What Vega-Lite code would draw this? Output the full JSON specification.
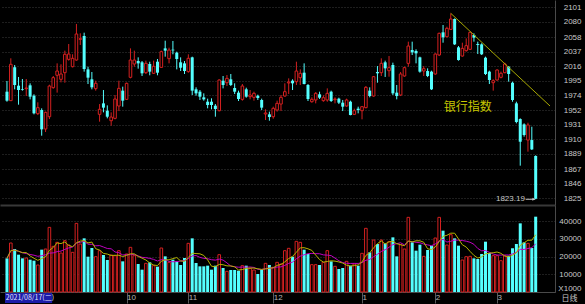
{
"$schema": "https://vega.github.io/schema/vega-lite/v6.json",
"background": "#000000",
"padding": {"left": 0, "top": 0, "right": 4, "bottom": 0},
"spacing": 0,
"config": {
  "view": {"stroke": null},
  "axis": {"labelFont": "Liberation Sans", "labelFontSize": 8, "labelColor": "#c8c8c8", "domainColor": "#4a4a4a", "gridColor": "#3c3c3c", "gridDash": [1, 2], "tickColor": "#5a5a5a"}
},
"datasets": {
"k": [
{"i":0,"open":1978.9,"high":1994.4,"low":1964.4,"close":1965.9,"vol":19049},
{"i":1,"open":1965.9,"high":2027.2,"low":1965.4,"close":2018.5,"vol":27724},
{"i":2,"open":2014.1,"high":2017.5,"low":1982.3,"close":1988.6,"vol":24329},
{"i":3,"open":1987.6,"high":2000.2,"low":1960.1,"close":1981.3,"vol":21123},
{"i":4,"open":1982.8,"high":1997.2,"low":1980.4,"close":1981.8,"vol":19049},
{"i":5,"open":1983.3,"high":1997.2,"low":1972.6,"close":1984.2,"vol":19237},
{"i":6,"open":1988.1,"high":1991.0,"low":1967.8,"close":1971.7,"vol":18294},
{"i":7,"open":1973.1,"high":1975.1,"low":1946.1,"close":1947.6,"vol":17728},
{"i":8,"open":1947.1,"high":1963.5,"low":1945.1,"close":1955.8,"vol":15277},
{"i":9,"open":1952.4,"high":1954.8,"low":1915.2,"close":1924.4,"vol":23952},
{"i":10,"open":1924.9,"high":1950.0,"low":1920.5,"close":1949.0,"vol":24329},
{"i":11,"open":1942.7,"high":1989.0,"low":1939.3,"close":1987.1,"vol":36588},
{"i":12,"open":1984.7,"high":2001.6,"low":1983.3,"close":1999.2,"vol":25838},
{"i":13,"open":2002.6,"high":2019.9,"low":1977.5,"close":2008.8,"vol":28101},
{"i":14,"open":1996.8,"high":2018.5,"low":1992.4,"close":2004.5,"vol":22066},
{"i":15,"open":2006.4,"high":2038.3,"low":1991.9,"close":2033.0,"vol":29044},
{"i":16,"open":2025.7,"high":2047.9,"low":2023.8,"close":2033.4,"vol":26593},
{"i":17,"open":2015.1,"high":2033.0,"low":2014.0,"close":2027.2,"vol":22443},
{"i":18,"open":2024.7,"high":2076.9,"low":2023.8,"close":2062.4,"vol":38852},
{"i":19,"open":2054.7,"high":2063.4,"low":2046.5,"close":2055.6,"vol":27158},
{"i":20,"open":2059.5,"high":2064.3,"low":2007.9,"close":2011.7,"vol":30365},
{"i":21,"open":2011.2,"high":2015.1,"low":1990.0,"close":1999.2,"vol":19992},
{"i":22,"open":1996.8,"high":2007.4,"low":1982.3,"close":1985.2,"vol":24895},
{"i":23,"open":1983.3,"high":1994.8,"low":1980.4,"close":1991.0,"vol":19992},
{"i":24,"open":1946.1,"high":1961.0,"low":1935.5,"close":1953.4,"vol":23386},
{"i":25,"open":1962.0,"high":1981.3,"low":1949.0,"close":1955.8,"vol":20935},
{"i":26,"open":1951.4,"high":1959.1,"low":1940.3,"close":1942.7,"vol":18106},
{"i":27,"open":1936.9,"high":1949.0,"low":1929.7,"close":1942.2,"vol":20935},
{"i":28,"open":1940.3,"high":1974.1,"low":1938.9,"close":1968.3,"vol":20557},
{"i":29,"open":1958.2,"high":1994.8,"low":1950.9,"close":1983.7,"vol":23386},
{"i":30,"open":1980.4,"high":1986.2,"low":1957.2,"close":1965.9,"vol":17351},
{"i":31,"open":1967.8,"high":1992.0,"low":1966.9,"close":1991.0,"vol":21500},
{"i":32,"open":1999.7,"high":2041.6,"low":1998.2,"close":2024.7,"vol":25272},
{"i":33,"open":2019.0,"high":2038.3,"low":2015.1,"close":2024.7,"vol":20557},
{"i":34,"open":2023.3,"high":2028.6,"low":2012.2,"close":2019.9,"vol":15842},
{"i":35,"open":2021.4,"high":2023.3,"low":2001.6,"close":2005.5,"vol":12636},
{"i":36,"open":2006.4,"high":2023.8,"low":2004.5,"close":2019.9,"vol":16220},
{"i":37,"open":2019.0,"high":2022.3,"low":2002.6,"close":2007.9,"vol":16785},
{"i":38,"open":2005.5,"high":2023.8,"low":2004.5,"close":2015.6,"vol":14899},
{"i":39,"open":2022.3,"high":2026.2,"low":2002.6,"close":2006.4,"vol":14334},
{"i":40,"open":2014.1,"high":2038.3,"low":2013.6,"close":2036.8,"vol":24895},
{"i":41,"open":2041.6,"high":2052.7,"low":2029.6,"close":2038.3,"vol":20180},
{"i":42,"open":2026.7,"high":2042.6,"low":2019.9,"close":2039.2,"vol":16785},
{"i":43,"open":2039.7,"high":2052.3,"low":2033.0,"close":2038.7,"vol":18294},
{"i":44,"open":2035.4,"high":2036.8,"low":2011.2,"close":2026.2,"vol":17351},
{"i":45,"open":2021.4,"high":2028.6,"low":2008.8,"close":2013.6,"vol":15277},
{"i":46,"open":2019.9,"high":2023.3,"low":2004.5,"close":2008.8,"vol":19237},
{"i":47,"open":2007.9,"high":2033.0,"low":2006.4,"close":2027.2,"vol":27536},
{"i":48,"open":2028.6,"high":2029.6,"low":1974.1,"close":1980.4,"vol":30365},
{"i":49,"open":1982.3,"high":1985.2,"low":1973.1,"close":1976.5,"vol":16408},
{"i":50,"open":1978.9,"high":1981.3,"low":1966.9,"close":1971.7,"vol":14522},
{"i":51,"open":1970.7,"high":1976.5,"low":1965.9,"close":1967.8,"vol":14522},
{"i":52,"open":1964.4,"high":1968.8,"low":1954.8,"close":1959.6,"vol":14899},
{"i":53,"open":1964.4,"high":1969.3,"low":1953.4,"close":1959.6,"vol":12636},
{"i":54,"open":1958.6,"high":1961.0,"low":1942.7,"close":1953.8,"vol":14899},
{"i":55,"open":1951.4,"high":1996.8,"low":1950.4,"close":1995.8,"vol":21123},
{"i":56,"open":1994.8,"high":2001.6,"low":1983.7,"close":1988.6,"vol":13579},
{"i":57,"open":1991.9,"high":2003.0,"low":1987.1,"close":1998.2,"vol":11693},
{"i":58,"open":1996.8,"high":2004.5,"low":1987.1,"close":1988.6,"vol":12448},
{"i":59,"open":1984.2,"high":1991.0,"low":1975.5,"close":1978.9,"vol":12448},
{"i":60,"open":1977.5,"high":1980.4,"low":1965.4,"close":1968.3,"vol":12070},
{"i":61,"open":1967.8,"high":1990.0,"low":1965.9,"close":1987.1,"vol":14899},
{"i":62,"open":1982.3,"high":1984.7,"low":1970.2,"close":1971.7,"vol":14899},
{"i":63,"open":1971.7,"high":1981.3,"low":1967.8,"close":1974.1,"vol":13391},
{"i":64,"open":1970.7,"high":1978.9,"low":1965.9,"close":1976.5,"vol":12448},
{"i":65,"open":1973.1,"high":1974.6,"low":1966.9,"close":1969.8,"vol":10184},
{"i":66,"open":1966.9,"high":1968.8,"low":1952.4,"close":1955.8,"vol":13013},
{"i":67,"open":1946.6,"high":1953.4,"low":1937.9,"close":1948.1,"vol":16220},
{"i":68,"open":1946.1,"high":1950.0,"low":1936.9,"close":1942.2,"vol":15277},
{"i":69,"open":1942.7,"high":1957.2,"low":1939.8,"close":1954.8,"vol":13956},
{"i":70,"open":1952.4,"high":1965.9,"low":1950.0,"close":1962.0,"vol":16785},
{"i":71,"open":1961.0,"high":1974.1,"low":1950.9,"close":1970.7,"vol":15842},
{"i":72,"open":1972.6,"high":1991.0,"low":1971.7,"close":1978.9,"vol":23386},
{"i":73,"open":1991.5,"high":1998.2,"low":1975.5,"close":1992.9,"vol":24707},
{"i":74,"open":1994.8,"high":1996.8,"low":1981.3,"close":1991.0,"vol":19992},
{"i":75,"open":1993.4,"high":2022.3,"low":1988.6,"close":2008.8,"vol":28667},
{"i":76,"open":1999.2,"high":2011.2,"low":1988.6,"close":2005.5,"vol":28101},
{"i":77,"open":2006.4,"high":2019.9,"low":1989.5,"close":1990.0,"vol":23952},
{"i":78,"open":1988.6,"high":1990.0,"low":1965.4,"close":1968.3,"vol":21500},
{"i":79,"open":1964.4,"high":1970.7,"low":1963.0,"close":1967.8,"vol":15465},
{"i":80,"open":1966.9,"high":1978.4,"low":1962.0,"close":1976.5,"vol":15465},
{"i":81,"open":1975.1,"high":1978.9,"low":1968.3,"close":1970.2,"vol":15277},
{"i":82,"open":1965.9,"high":1973.6,"low":1964.4,"close":1970.2,"vol":16785},
{"i":83,"open":1966.9,"high":1983.7,"low":1964.4,"close":1976.5,"vol":23386},
{"i":84,"open":1978.9,"high":1980.4,"low":1964.0,"close":1965.4,"vol":17351},
{"i":85,"open":1967.3,"high":1970.7,"low":1962.0,"close":1968.3,"vol":14522},
{"i":86,"open":1968.8,"high":1970.2,"low":1961.0,"close":1963.0,"vol":13013},
{"i":87,"open":1963.0,"high":1966.9,"low":1950.9,"close":1957.2,"vol":13579},
{"i":88,"open":1958.2,"high":1968.8,"low":1957.2,"close":1966.9,"vol":17351},
{"i":89,"open":1964.4,"high":1965.9,"low":1944.7,"close":1945.1,"vol":14899},
{"i":90,"open":1946.1,"high":1954.3,"low":1945.1,"close":1951.4,"vol":15842},
{"i":91,"open":1954.3,"high":1957.2,"low":1947.6,"close":1952.4,"vol":14899},
{"i":92,"open":1951.4,"high":1958.2,"low":1938.9,"close":1957.2,"vol":21878},
{"i":93,"open":1955.8,"high":1987.1,"low":1954.8,"close":1985.2,"vol":36023},
{"i":94,"open":1980.4,"high":1985.2,"low":1970.7,"close":1972.6,"vol":22443},
{"i":95,"open":1972.6,"high":2001.6,"low":1971.7,"close":2000.6,"vol":29422},
{"i":96,"open":2007.4,"high":2016.0,"low":1991.9,"close":2005.5,"vol":27158},
{"i":97,"open":2006.4,"high":2027.2,"low":2001.6,"close":2019.9,"vol":29422},
{"i":98,"open":2021.4,"high":2023.8,"low":2000.2,"close":2012.7,"vol":27536},
{"i":99,"open":2009.3,"high":2030.5,"low":2000.6,"close":2013.7,"vol":28479},
{"i":100,"open":2017.5,"high":2020.9,"low":1974.1,"close":1976.5,"vol":30930},
{"i":101,"open":1977.5,"high":1988.6,"low":1967.8,"close":1972.6,"vol":20180},
{"i":102,"open":1974.1,"high":2007.4,"low":1972.6,"close":2004.5,"vol":26781},
{"i":103,"open":2001.6,"high":2015.1,"low":2000.6,"close":2013.7,"vol":24329},
{"i":104,"open":2019.9,"high":2051.3,"low":2015.1,"close":2045.0,"vol":42246},
{"i":105,"open":2039.2,"high":2051.3,"low":2032.0,"close":2035.9,"vol":28101},
{"i":106,"open":2037.8,"high":2040.2,"low":2019.9,"close":2034.4,"vol":23386},
{"i":107,"open":2028.6,"high":2029.6,"low":2006.4,"close":2007.9,"vol":26781},
{"i":108,"open":2008.8,"high":2016.0,"low":2001.6,"close":2012.2,"vol":20180},
{"i":109,"open":2008.8,"high":2012.7,"low":2000.0,"close":2001.6,"vol":23764},
{"i":110,"open":2007.9,"high":2009.3,"low":1981.3,"close":1982.3,"vol":26215},
{"i":111,"open":2004.5,"high":2034.4,"low":2003.5,"close":2033.4,"vol":30553},
{"i":112,"open":2032.0,"high":2064.3,"low":2030.5,"close":2063.4,"vol":42246},
{"i":113,"open":2064.8,"high":2075.4,"low":2049.8,"close":2057.6,"vol":34702},
{"i":114,"open":2058.5,"high":2073.0,"low":2057.6,"close":2070.6,"vol":26593},
{"i":115,"open":2069.1,"high":2092.3,"low":2068.2,"close":2084.1,"vol":32439},
{"i":116,"open":2084.1,"high":2085.0,"low":2046.5,"close":2047.4,"vol":30365},
{"i":117,"open":2043.1,"high":2045.0,"low":2023.8,"close":2024.7,"vol":26215},
{"i":118,"open":2030.5,"high":2049.8,"low":2029.6,"close":2041.6,"vol":18106},
{"i":119,"open":2038.3,"high":2056.1,"low":2036.8,"close":2045.5,"vol":19992},
{"i":120,"open":2040.2,"high":2065.8,"low":2039.2,"close":2064.8,"vol":20180},
{"i":121,"open":2060.9,"high":2063.4,"low":2051.3,"close":2057.1,"vol":19049},
{"i":122,"open":2047.9,"high":2051.3,"low":2033.4,"close":2046.5,"vol":18671},
{"i":123,"open":2047.4,"high":2048.9,"low":2032.0,"close":2033.0,"vol":21500},
{"i":124,"open":2028.1,"high":2029.6,"low":2003.0,"close":2004.5,"vol":28479},
{"i":125,"open":2007.9,"high":2009.3,"low":1990.0,"close":1995.8,"vol":22066},
{"i":126,"open":1991.9,"high":1996.8,"low":1980.4,"close":1994.8,"vol":20557},
{"i":127,"open":1995.8,"high":2011.2,"low":1994.8,"close":2010.3,"vol":20557},
{"i":128,"open":1999.7,"high":2007.9,"low":1998.2,"close":2005.5,"vol":17728},
{"i":129,"open":2006.4,"high":2020.9,"low":2005.5,"close":2019.0,"vol":20557},
{"i":130,"open":2015.1,"high":2016.0,"low":1993.4,"close":2004.5,"vol":20557},
{"i":131,"open":1991.9,"high":1993.4,"low":1964.4,"close":1966.9,"vol":24707},
{"i":132,"open":1962.0,"high":1964.4,"low":1933.1,"close":1935.0,"vol":27158},
{"i":133,"open":1939.3,"high":1940.3,"low":1871.8,"close":1906.5,"vol":38852},
{"i":134,"open":1931.6,"high":1933.1,"low":1913.8,"close":1916.2,"vol":28101},
{"i":135,"open":1908.9,"high":1934.0,"low":1892.1,"close":1930.7,"vol":27536},
{"i":136,"open":1908.9,"high":1928.2,"low":1894.5,"close":1895.4,"vol":24895},
{"i":137,"open":1885.8,"high":1886.8,"low":1823.19,"close":1824.0,"vol":42624}
]
},
"vconcat": [
{
  "width": 555,
  "height": 205,
  "data": {"name": "k"},
  "encoding": {
    "x": {"field": "i", "type": "quantitative", "scale": {"domain": [-0.509, 140.71], "nice": false, "zero": false},
          "axis": {"labels": false, "ticks": false, "grid": false, "title": null, "domainWidth": 2, "domainColor": "#383838"}}
  },
  "layer": [
    {
      "mark": {"type": "rule", "strokeWidth": 1},
      "encoding": {
        "y": {"field": "low", "type": "quantitative", "scale": {"domain": [1814.9, 2111.6], "nice": false, "zero": false},
              "axis": {"orient": "right", "title": null, "values": [2101, 2080, 2058, 2037, 2016, 1995, 1974, 1952, 1931, 1910, 1889, 1867, 1846, 1825], "format": "d", "ticks": false, "labelAlign": "right", "labelBaseline": "middle", "labelPadding": 26, "grid": true}},
        "y2": {"field": "high"},
        "color": {"condition": {"test": "datum.close >= datum.open", "value": "#d42020"}, "value": "#54ffff"}
      }
    },
    {
      "transform": [{"filter": "datum.close < datum.open"}],
      "mark": {"type": "bar", "orient": "vertical", "width": 3, "color": "#54ffff"},
      "encoding": {"y": {"field": "open", "type": "quantitative", "axis": {"orient": "right", "title": null, "values": [2101, 2080, 2058, 2037, 2016, 1995, 1974, 1952, 1931, 1910, 1889, 1867, 1846, 1825], "format": "d", "ticks": false, "labelAlign": "right", "labelBaseline": "middle", "labelPadding": 26, "grid": true}}, "y2": {"field": "close"}}
    },
    {
      "transform": [{"filter": "datum.close >= datum.open"}],
      "mark": {"type": "bar", "orient": "vertical", "width": 2.6, "fill": "#000000", "stroke": "#d42020", "strokeWidth": 1},
      "encoding": {"y": {"field": "open", "type": "quantitative", "axis": {"orient": "right", "title": null, "values": [2101, 2080, 2058, 2037, 2016, 1995, 1974, 1952, 1931, 1910, 1889, 1867, 1846, 1825], "format": "d", "ticks": false, "labelAlign": "right", "labelBaseline": "middle", "labelPadding": 26, "grid": true}}, "y2": {"field": "close"}}
    },
    {
      "data": {"values": [{"i": 115, "price": 2092.3}, {"i": 140.71, "price": 1958.2}]},
      "mark": {"type": "line", "color": "#a8a800", "strokeWidth": 1},
      "encoding": {"y": {"field": "price", "type": "quantitative", "axis": {"orient": "right", "title": null, "values": [2101, 2080, 2058, 2037, 2016, 1995, 1974, 1952, 1931, 1910, 1889, 1867, 1846, 1825], "format": "d", "ticks": false, "labelAlign": "right", "labelBaseline": "middle", "labelPadding": 26, "grid": true}}}
    },
    {
      "data": {"values": [{"label": "银行指数", "i": 113.15, "price": 1957.2}]},
      "mark": {"type": "text", "align": "left", "baseline": "middle", "font": "Noto Sans CJK SC", "fontSize": 12, "color": "#c8c800"},
      "encoding": {"y": {"field": "price", "type": "quantitative", "axis": {"orient": "right", "title": null, "values": [2101, 2080, 2058, 2037, 2016, 1995, 1974, 1952, 1931, 1910, 1889, 1867, 1846, 1825], "format": "d", "ticks": false, "labelAlign": "right", "labelBaseline": "middle", "labelPadding": 26, "grid": true}}, "text": {"field": "label"}}
    },
    {
      "data": {"values": [{"label": "1823.19", "i": 134.2, "price": 1823.19}]},
      "mark": {"type": "text", "align": "right", "baseline": "middle", "font": "Liberation Sans", "fontSize": 8, "color": "#c8c8c8"},
      "encoding": {"y": {"field": "price", "type": "quantitative", "axis": {"orient": "right", "title": null, "values": [2101, 2080, 2058, 2037, 2016, 1995, 1974, 1952, 1931, 1910, 1889, 1867, 1846, 1825], "format": "d", "ticks": false, "labelAlign": "right", "labelBaseline": "middle", "labelPadding": 26, "grid": true}}, "text": {"field": "label"}}
    },
    {
      "data": {"values": [{"i": 134.4, "i2": 136.8, "price": 1823.19}]},
      "mark": {"type": "rule", "color": "#c8c8c8", "strokeWidth": 1},
      "encoding": {"x2": {"field": "i2"}, "y": {"field": "price", "type": "quantitative", "axis": {"orient": "right", "title": null, "values": [2101, 2080, 2058, 2037, 2016, 1995, 1974, 1952, 1931, 1910, 1889, 1867, 1846, 1825], "format": "d", "ticks": false, "labelAlign": "right", "labelBaseline": "middle", "labelPadding": 26, "grid": true}}}
    },
    {
      "data": {"values": [{"i": 136.5, "price": 1823.19}]},
      "mark": {"type": "point", "shape": "triangle-right", "filled": true, "size": 10, "color": "#c8c8c8", "opacity": 1},
      "encoding": {"y": {"field": "price", "type": "quantitative", "axis": {"orient": "right", "title": null, "values": [2101, 2080, 2058, 2037, 2016, 1995, 1974, 1952, 1931, 1910, 1889, 1867, 1846, 1825], "format": "d", "ticks": false, "labelAlign": "right", "labelBaseline": "middle", "labelPadding": 26, "grid": true}}}
    }
  ]
},
{
  "width": 555,
  "height": 87,
  "data": {"name": "k"},
  "encoding": {
    "x": {"field": "i", "type": "quantitative", "scale": {"domain": [-0.509, 140.71], "nice": false, "zero": false},
          "axis": {"values": [31, 47, 69, 92, 111, 127],
                   "labelExpr": "datum.value == 31 ? '10' : datum.value == 47 ? '11' : datum.value == 69 ? '12' : datum.value == 92 ? '1' : datum.value == 111 ? '2' : '3'",
                   "tickSize": 11, "labelAlign": "left", "labelBaseline": "middle", "labelPadding": -5.5, "labelDx": 2,
                   "labelColor": "#b4b4b4", "grid": false, "domainColor": "#4a4a4a", "tickColor": "#5a5a5a",
                   "title": "日线", "titleX": 569, "titleY": 6.5, "titleAlign": "center", "titleBaseline": "middle", "titleAnchor": null,
                   "titleFont": "Noto Sans CJK SC", "titleFontSize": 8, "titleFontWeight": "normal", "titleColor": "#c8c8c8"}}
  },
  "layer": [
    {
      "transform": [{"filter": "datum.close < datum.open"}],
      "mark": {"type": "bar", "orient": "vertical", "width": 3, "color": "#54ffff"},
      "encoding": {
        "y": {"field": "vol", "type": "quantitative", "scale": {"domain": [0, 49233], "nice": false},
              "axis": {"orient": "right", "title": null, "values": [0, 10000, 20000, 30000, 40000], "format": "d", "labelExpr": "datum.value == 0 ? 'X1000' : datum.label", "ticks": false, "labelAlign": "right", "labelBaseline": {"condition": {"test": "datum.value == 0", "value": "bottom"}, "value": "middle"}, "labelPadding": 26, "grid": true}}
      }
    },
    {
      "transform": [{"filter": "datum.close >= datum.open"}],
      "mark": {"type": "bar", "orient": "vertical", "width": 2.6, "fill": "#000000", "stroke": "#d42020", "strokeWidth": 1},
      "encoding": {"y": {"field": "vol", "type": "quantitative", "axis": {"orient": "right", "title": null, "values": [0, 10000, 20000, 30000, 40000], "format": "d", "labelExpr": "datum.value == 0 ? 'X1000' : datum.label", "ticks": false, "labelAlign": "right", "labelBaseline": {"condition": {"test": "datum.value == 0", "value": "bottom"}, "value": "middle"}, "labelPadding": 26, "grid": true}}}
    },
    {
      "transform": [{"window": [{"op": "mean", "field": "vol", "as": "ma10"}], "frame": [-9, 0], "sort": [{"field": "i"}]}],
      "mark": {"type": "line", "color": "#c000c0", "strokeWidth": 1},
      "encoding": {"y": {"field": "ma10", "type": "quantitative", "axis": {"orient": "right", "title": null, "values": [0, 10000, 20000, 30000, 40000], "format": "d", "labelExpr": "datum.value == 0 ? 'X1000' : datum.label", "ticks": false, "labelAlign": "right", "labelBaseline": {"condition": {"test": "datum.value == 0", "value": "bottom"}, "value": "middle"}, "labelPadding": 26, "grid": true}}}
    },
    {
      "transform": [{"window": [{"op": "mean", "field": "vol", "as": "ma5"}], "frame": [-4, 0], "sort": [{"field": "i"}]}],
      "mark": {"type": "line", "color": "#b4b400", "strokeWidth": 1},
      "encoding": {"y": {"field": "ma5", "type": "quantitative", "axis": {"orient": "right", "title": null, "values": [0, 10000, 20000, 30000, 40000], "format": "d", "labelExpr": "datum.value == 0 ? 'X1000' : datum.label", "ticks": false, "labelAlign": "right", "labelBaseline": {"condition": {"test": "datum.value == 0", "value": "bottom"}, "value": "middle"}, "labelPadding": 26, "grid": true}}}
    },
    {
      "data": {"values": [{"label": "2021/08/17(二)", "i": -0.509, "i2": 11.7, "vol": -566, "vol2": -6225}]},
      "mark": {"type": "rect", "color": "#1c1ca8"},
      "encoding": {"x2": {"field": "i2"}, "y": {"field": "vol", "type": "quantitative", "axis": {"orient": "right", "title": null, "values": [0, 10000, 20000, 30000, 40000], "format": "d", "labelExpr": "datum.value == 0 ? 'X1000' : datum.label", "ticks": false, "labelAlign": "right", "labelBaseline": {"condition": {"test": "datum.value == 0", "value": "bottom"}, "value": "middle"}, "labelPadding": 26, "grid": true}}, "y2": {"field": "vol2"}}
    },
    {
      "data": {"values": [{"label": "2021/08/17(二)", "i": -0.3, "vol": -3396}]},
      "mark": {"type": "text", "align": "left", "baseline": "middle", "font": "Noto Sans CJK SC", "fontSize": 7, "color": "#e0e0ff"},
      "encoding": {"y": {"field": "vol", "type": "quantitative", "axis": {"orient": "right", "title": null, "values": [0, 10000, 20000, 30000, 40000], "format": "d", "labelExpr": "datum.value == 0 ? 'X1000' : datum.label", "ticks": false, "labelAlign": "right", "labelBaseline": {"condition": {"test": "datum.value == 0", "value": "bottom"}, "value": "middle"}, "labelPadding": 26, "grid": true}}, "text": {"field": "label"}}
    }
  ]
}
]
}
